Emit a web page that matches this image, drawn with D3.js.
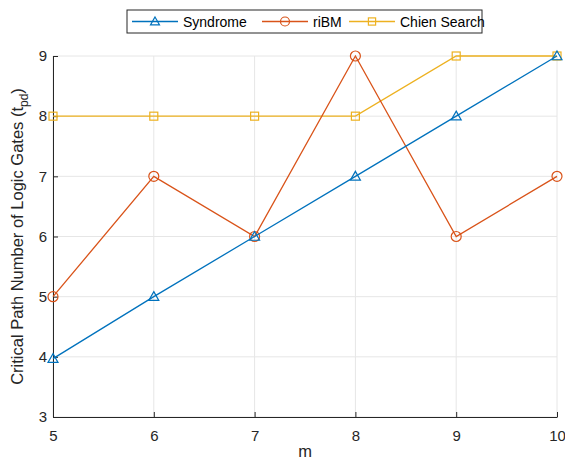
<!DOCTYPE html>
<html>
<head>
<meta charset="utf-8">
<script src="https://cdn.jsdelivr.net/npm/d3@7"></script>
<style>
body { margin: 0; background: #fff; }
text { font-family: "Liberation Sans", Arial, sans-serif; }
</style>
</head>
<body>
<div id="chart"></div>
<script>
var mValues = [5, 6, 7, 8, 9, 10];
var syndrome = [3.97, 5, 6, 7, 8, 9];
var riBM = [5, 7, 6, 9, 6, 7];
var chien = [8, 8, 8, 8, 9, 9];
var seriesNames = ["Syndrome", "riBM", "Chien Search"];
var colors = ["#0072BD", "#D95319", "#EDB120"];
var markers = ["triangle", "circle", "square"];

var width = 565, height = 462;
var margin = {left: 53, right: 8, top: 56, bottom: 45};

var svg = d3.select("#chart").append("svg")
  .attr("width", width)
  .attr("height", height);

var x = d3.scaleLinear().domain([5, 10]).range([margin.left, width - margin.right]);
var y = d3.scaleLinear().domain([3, 9]).range([height - margin.bottom, margin.top]);

// grid
svg.append("g").selectAll("line.gx")
  .data(mValues)
  .enter().append("line")
  .attr("x1", d => x(d)).attr("x2", d => x(d))
  .attr("y1", y(3)).attr("y2", y(9))
  .attr("stroke", "#e6e6e6").attr("stroke-width", 1);
svg.append("g").selectAll("line.gy")
  .data(d3.range(3, 10))
  .enter().append("line")
  .attr("x1", x(5)).attr("x2", x(10))
  .attr("y1", d => y(d)).attr("y2", d => y(d))
  .attr("stroke", "#e6e6e6").attr("stroke-width", 1);

// axes
var xAxis = svg.append("g")
  .attr("transform", "translate(0," + y(3) + ")")
  .call(d3.axisBottom(x).tickValues(mValues).tickFormat(d3.format("d"))
    .tickSizeInner(-5).tickSizeOuter(0).tickPadding(13));
var yAxis = svg.append("g")
  .attr("transform", "translate(" + x(5) + ",0)")
  .call(d3.axisLeft(y).tickValues(d3.range(3, 10)).tickFormat(d3.format("d"))
    .tickSizeInner(-5).tickSizeOuter(0).tickPadding(6));
[xAxis, yAxis].forEach(function(a) {
  a.attr("font-size", null).attr("font-family", null);
  a.select(".domain").attr("stroke", "#262626");
  a.selectAll(".tick line").attr("stroke", "#262626");
  a.selectAll(".tick text").attr("fill", "#262626").style("font-size", "15px");
});

// labels
svg.append("text")
  .attr("x", x(7.5)).attr("y", 457)
  .attr("text-anchor", "middle")
  .style("font-size", "16.5px").attr("fill", "#262626")
  .text("m");
var yl = svg.append("text")
  .attr("transform", "translate(23," + y(6) + ") rotate(-90)")
  .attr("text-anchor", "middle")
  .style("font-size", "16.5px").attr("fill", "#262626");
yl.append("tspan").text("Critical Path Number of Logic Gates (t");
yl.append("tspan").attr("dy", 5).style("font-size", "12px").text("pd");
yl.append("tspan").attr("dy", -5).text(")");

function drawMarker(g, type, color, size) {
  if (type === "triangle") {
    g.append("path").attr("d", "M0," + (-size) + "L" + size + "," + (size * 0.75) + "L" + (-size) + "," + (size * 0.75) + "Z")
      .attr("fill", "none").attr("stroke", color).attr("stroke-width", 1.2);
  } else if (type === "circle") {
    g.append("circle").attr("r", size).attr("fill", "none").attr("stroke", color).attr("stroke-width", 1.2);
  } else {
    g.append("rect").attr("x", -size * 0.8).attr("y", -size * 0.8).attr("width", size * 1.6).attr("height", size * 1.6)
      .attr("fill", "none").attr("stroke", color).attr("stroke-width", 1.2);
  }
}

var allSeries = [syndrome, riBM, chien];
var line = d3.line().x((d, i) => x(mValues[i])).y(d => y(d));
// draw in reverse so Syndrome on top
[2, 1, 0].forEach(function(s) {
  svg.append("path").datum(allSeries[s])
    .attr("d", line)
    .attr("fill", "none").attr("stroke", colors[s]).attr("stroke-width", 1.3);
  allSeries[s].forEach(function(v, i) {
    var g = svg.append("g").attr("transform", "translate(" + x(mValues[i]) + "," + y(v) + ")");
    drawMarker(g, markers[s], colors[s], 5);
  });
});

// legend
var lg = svg.append("g").attr("transform", "translate(127,10)");
lg.append("rect").attr("width", 355).attr("height", 23)
  .attr("fill", "#fff").attr("stroke", "#262626").attr("stroke-width", 1);
var offsets = [5, 135, 222];
seriesNames.forEach(function(name, s) {
  var item = lg.append("g").attr("transform", "translate(" + offsets[s] + ",11.5)");
  item.append("line").attr("x1", 0).attr("x2", 46).attr("stroke", colors[s]).attr("stroke-width", 1.3);
  drawMarker(item.append("g").attr("transform", "translate(23,0)"), markers[s], colors[s], 4.5);
  item.append("text").attr("x", 51).attr("y", 5)
    .style("font-size", "14px").attr("fill", "#000").text(name);
});
</script>
</body>
</html>
